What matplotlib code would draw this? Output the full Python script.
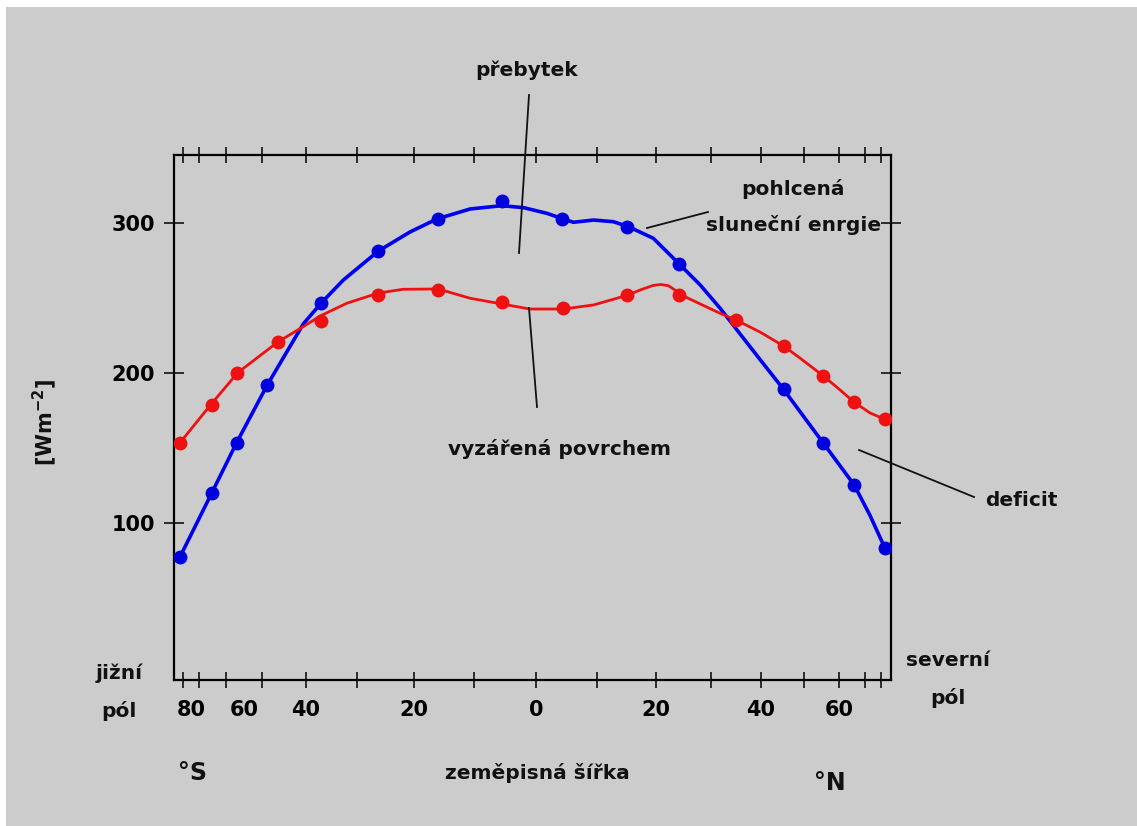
import numpy as np
import matplotlib.pyplot as plt
from matplotlib.lines import Line2D
from matplotlib.patches import Rectangle
from matplotlib.transforms import ScaledTranslation

W, H = 1137, 826
GRAY = '#cccccc'

# x values are sin(latitude), south negative; y in W/m2
sol_x = [-0.994, -0.906, -0.836, -0.752, -0.601, -0.440, -0.275, -0.096,
         0.073, 0.261, 0.409, 0.707, 0.821, 0.909, 0.997]
sol_y = [77.1, 119.5, 153.4, 192.0, 247.0, 281.6, 302.8, 315.0,
         302.8, 297.9, 272.7, 189.0, 153.0, 125.0, 82.7]

ir_x = [-0.994, -0.906, -0.836, -0.720, -0.601, -0.440, -0.275, -0.096,
        0.076, 0.261, 0.409, 0.571, 0.707, 0.821, 0.907, 0.997]
ir_y = [153.0, 178.6, 200.2, 220.5, 234.8, 252.2, 255.5, 247.7,
        243.3, 252.2, 252.2, 235.5, 218.0, 198.0, 180.8, 169.0]

# smoothed curves as drawn in the picture
sol_cx = [-0.994, -0.906, -0.836, -0.752, -0.650, -0.599, -0.538, -0.440, -0.352,
          -0.277, -0.184, -0.096, -0.035, 0.031, 0.078, 0.107, 0.164, 0.221,
          0.264, 0.335, 0.407, 0.469, 0.526, 0.583, 0.640, 0.707, 0.821,
          0.909, 0.954, 0.997]
sol_cy = [77.1, 119.5, 153.4, 191.3, 232.8, 247.0, 262.2, 281.6, 294.3,
          303.0, 309.7, 311.9, 310.6, 306.8, 303.0, 300.8, 302.3, 301.2,
          297.9, 290.1, 273.4, 258.9, 243.3, 226.1, 209.0, 189.1, 153.0,
          125.1, 104.8, 82.7]

ir_cx = [-0.994, -0.909, -0.833, -0.720, -0.650, -0.603, -0.529, -0.440, -0.371,
         -0.273, -0.184, -0.096, -0.017, 0.078, 0.164, 0.264, 0.297, 0.335, 0.357,
         0.378, 0.397, 0.411, 0.469, 0.526, 0.571, 0.640, 0.707, 0.754, 0.821,
         0.869, 0.907, 0.954, 0.997]
ir_cy = [153.4, 178.6, 200.2, 220.9, 231.0, 238.1, 246.6, 253.5, 256.0,
         256.2, 250.0, 246.2, 242.8, 242.8, 245.5, 252.2, 255.5, 258.6, 259.2,
         258.4, 255.5, 252.6, 246.2, 239.9, 235.5, 227.4, 218.1, 210.0, 198.0,
         188.6, 180.8, 173.3, 169.0]

tick_lat = [-80, -70, -60, -50, -40, -30, -20, -10, 0, 10, 20, 30, 40, 50, 60, 70, 80]
label_lat = [-80, -60, -40, -20, 0, 20, 40, 60]
y_ticks = [100, 200, 300]

plt.rcParams['font.weight'] = 'bold'


def pos(s):
    # the southern half of the original axis is drawn a little wider
    s = np.asarray(s, dtype=float)
    return np.where(s < 0, s * 358 / 350, s)


def sinlat(lat):
    return np.sin(np.radians(lat))


def fx(px):
    return px / W


def fy(py):
    return 1 - py / H


fig = plt.figure(figsize=(W / 100, H / 100), dpi=100, facecolor='white')
fig.add_artist(Rectangle((fx(6), 0), 1, fy(7), transform=fig.transFigure,
                         facecolor=GRAY, edgecolor='none', zorder=-5))

ax = fig.add_axes([fx(174), fy(680), fx(891) - fx(174), fy(155) - fy(680)])
ax.set_facecolor(GRAY)

ax.plot(pos(sol_cx), sol_cy, color='#0000ee', lw=2.6, solid_capstyle='round',
        solid_joinstyle='round', zorder=3)
ax.plot(pos(sol_x), sol_y, 'o', color='#0000dd', ms=9, zorder=4)
ax.plot(pos(ir_cx), ir_cy, color='#ee1111', lw=2.0, solid_joinstyle='round', zorder=3)
ax.plot(pos(ir_x), ir_y, 'o', color='#ee1111', ms=9, zorder=4)

ax.set_xlim(-1.034, 1.014)
ax.set_ylim(-5.3, 345.8)

ax.set_xticks(pos(sinlat(tick_lat)), minor=True)
ax.set_xticks(pos(sinlat(label_lat)))
ax.set_xticklabels([str(abs(v)) for v in label_lat])
ax.set_yticks(y_ticks)
ax.set_yticklabels([str(v) for v in y_ticks])

ax.tick_params(axis='x', which='both', direction='inout', length=11, width=1.1,
               top=True, bottom=True, labelsize=15, pad=9)
ax.tick_params(axis='y', direction='inout', length=15, width=1.1,
               left=True, right=True, labelsize=15, pad=6)
for sp in ax.spines.values():
    sp.set_linewidth(1.6)

# the two southernmost labels sit a bit right of their ticks in the original
shifts = {0: 8, 1: 18}
for i, lab in enumerate(ax.get_xticklabels()):
    if i in shifts:
        lab.set_transform(lab.get_transform()
                          + ScaledTranslation(shifts[i] / 100, 0, fig.dpi_scale_trans))

txt = dict(fontsize=14.5, color='#111111', ha='center', va='center')
fig.text(fx(527), fy(70), 'přebytek', **txt)
fig.text(fx(793), fy(189), 'pohlcená', **txt)
fig.text(fx(794), fy(225), 'sluneční enrgie', **txt)
fig.text(fx(560), fy(449), 'vyzářená povrchem', **txt)
fig.text(fx(1021), fy(501), 'deficit', **txt)
fig.text(fx(119), fy(673), 'jižní', **txt)
fig.text(fx(119), fy(711), 'pól', **txt)
fig.text(fx(948), fy(660), 'severní', **txt)
fig.text(fx(948), fy(698), 'pól', **txt)
fig.text(fx(192), fy(773), '°S', fontsize=17, color='#111111', ha='center', va='center')
fig.text(fx(830), fy(783), '°N', fontsize=17, color='#111111', ha='center', va='center')
fig.text(fx(537), fy(773), 'zeměpisná šířka', **txt)
fig.text(fx(45), fy(422), r'[Wm$^{-2}$]', fontsize=15, rotation=90,
         color='#111111', ha='center', va='center')

pointers = [((529, 95), (519, 253)),
            ((529, 308), (537, 407)),
            ((647, 228), (708, 212)),
            ((859, 450), (974, 497))]
for (x0, y0), (x1, y1) in pointers:
    fig.add_artist(Line2D([fx(x0), fx(x1)], [fy(y0), fy(y1)], color='#111111',
                          lw=1.3, transform=fig.transFigure, zorder=6))

fig.savefig('out.png', dpi=100, facecolor=fig.get_facecolor())
